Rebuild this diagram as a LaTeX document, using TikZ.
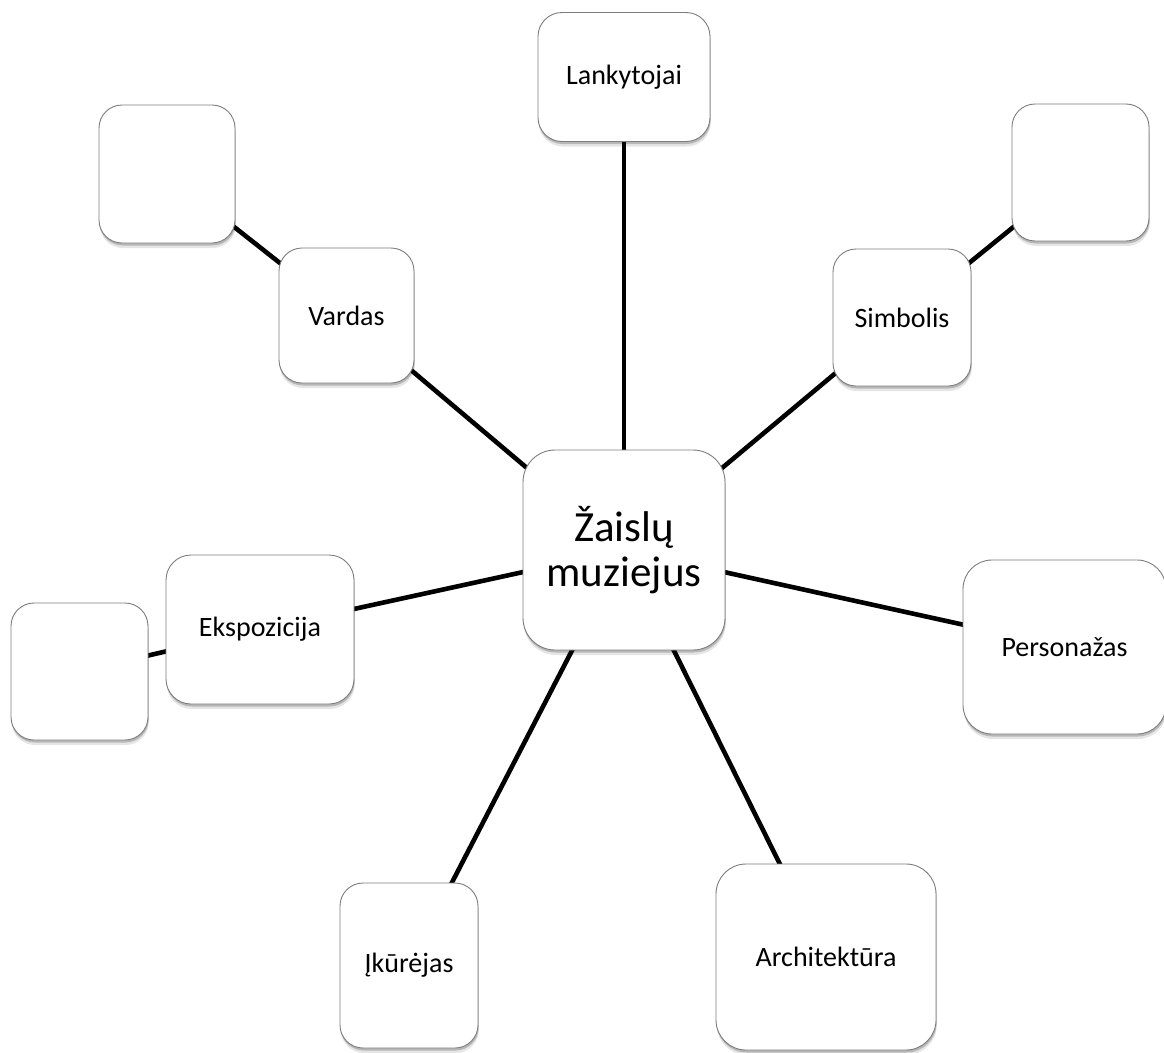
\documentclass[tikz,border=0pt]{standalone}
\usepackage{fontspec}
\setmainfont{Carlito}
\usetikzlibrary{shadows,backgrounds}

\begin{document}
\begin{tikzpicture}[x=1pt,y=-1pt,
  box/.style={draw={rgb,255:red,125;green,125;blue,125}, line width=0.9pt,
    fill=white, rounded corners=#1, align=center, inner sep=0pt,
    font=\fontsize{28}{34}\selectfont,
    drop shadow={shadow xshift=0.6pt, shadow yshift=-2.5pt, opacity=0.20, fill=black},
    drop shadow={shadow xshift=0.8pt, shadow yshift=-5pt, opacity=0.10, fill=black}},
  box/.default=23pt,
  sz/.style 2 args={minimum width=#1pt, minimum height=#2pt},
  link/.style={line width=4.6pt, black}]

\useasboundingbox (0,0) rectangle (1164,1052);

% central topic
\node[box=32pt, sz={202}{200}, font=\fontsize{43}{45}\selectfont] (hub) at (624,550)
  {Žaislų\\muziejus};

% first ring
\node[box=24pt, sz={172}{129}] (lank) at (624,77) {Lankytojai};
\node[box, sz={135}{135}] (vard) at (346.5,315.5) {Vardas};
\node[box, sz={138}{137}] (simb) at (902,317.5) {Simbolis};
\node[box=25pt, sz={188}{149}] (eksp) at (260,629.5) {Ekspozicija};
\node[box=29pt, sz={203}{174}] (pers) at (1064.5,647) {Personažas};
\node[box=23pt, sz={138}{165}] (ikur) at (409,965.5) {Įkūrėjas};
\node[box=30pt, sz={220}{186}] (arch) at (826,957) {Architektūra};

% empty second-level boxes
\node[box, sz={136}{138}] (vardsub) at (167,174) {};
\node[box, sz={137}{137}] (simbsub) at (1080.5,172.5) {};
\node[box, sz={137}{137}] (ekspsub) at (79.5,671.5) {};

% connectors run centre to centre beneath the boxes
\begin{scope}[on background layer]
  \draw[link] (hub.center) -- (lank.center);
  \draw[link] (hub.center) -- (vard.center);
  \draw[link] (hub.center) -- (simb.center);
  \draw[link] (hub.center) -- (eksp.center);
  \draw[link] (hub.center) -- (pers.center);
  \draw[link] (hub.center) -- (ikur.center);
  \draw[link] (hub.center) -- (arch.center);
  \draw[link] (vard.center) -- (vardsub.center);
  \draw[link] (simb.center) -- (simbsub.center);
  \draw[link] (eksp.center) -- (ekspsub.center);
\end{scope}
\end{tikzpicture}
\end{document}
